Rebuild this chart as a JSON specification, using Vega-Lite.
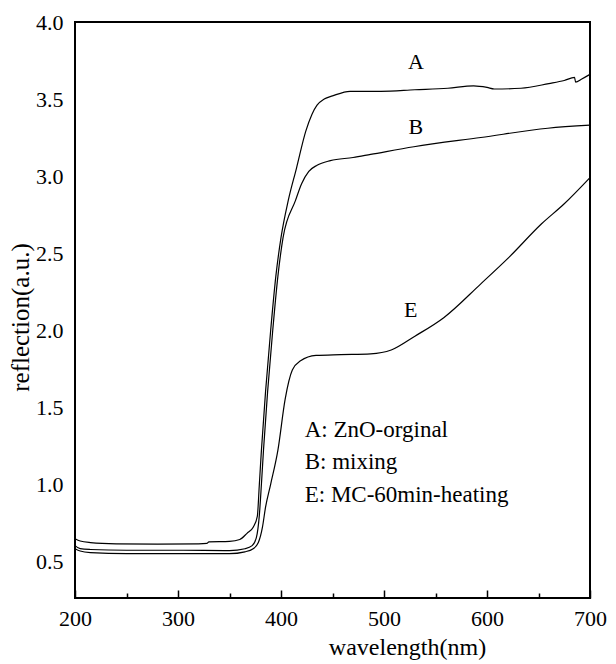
{
  "$schema": "https://vega.github.io/schema/vega-lite/v6.json",
  "width": 515,
  "height": 576,
  "autosize": {"type": "none"},
  "padding": {"left": 75, "top": 22, "right": 26, "bottom": 66},
  "background": "white",
  "config": {
    "view": {"stroke": "black", "strokeWidth": 2},
    "font": "Liberation Serif"
  },
  "datasets": {
    "curves": [
      {"s": "A", "wl": 200, "r": 0.645}, {"s": "A", "wl": 205, "r": 0.63}, {"s": "A", "wl": 215, "r": 0.62}, {"s": "A", "wl": 240, "r": 0.612}, {"s": "A", "wl": 280, "r": 0.61}, {"s": "A", "wl": 320, "r": 0.612}, {"s": "A", "wl": 328, "r": 0.615}, {"s": "A", "wl": 330, "r": 0.625}, {"s": "A", "wl": 350, "r": 0.628}, {"s": "A", "wl": 360, "r": 0.64}, {"s": "A", "wl": 367, "r": 0.68}, {"s": "A", "wl": 373, "r": 0.72}, {"s": "A", "wl": 377, "r": 0.79}, {"s": "A", "wl": 379, "r": 1.0}, {"s": "A", "wl": 381, "r": 1.22}, {"s": "A", "wl": 385, "r": 1.6}, {"s": "A", "wl": 390, "r": 2.0}, {"s": "A", "wl": 395, "r": 2.35}, {"s": "A", "wl": 400, "r": 2.6}, {"s": "A", "wl": 407, "r": 2.84}, {"s": "A", "wl": 415, "r": 3.05}, {"s": "A", "wl": 424, "r": 3.29}, {"s": "A", "wl": 430, "r": 3.4}, {"s": "A", "wl": 435, "r": 3.46}, {"s": "A", "wl": 442, "r": 3.5}, {"s": "A", "wl": 450, "r": 3.52}, {"s": "A", "wl": 467, "r": 3.55}, {"s": "A", "wl": 497, "r": 3.55}, {"s": "A", "wl": 530, "r": 3.56}, {"s": "A", "wl": 562, "r": 3.57}, {"s": "A", "wl": 587, "r": 3.585}, {"s": "A", "wl": 600, "r": 3.575}, {"s": "A", "wl": 607, "r": 3.565}, {"s": "A", "wl": 633, "r": 3.57}, {"s": "A", "wl": 660, "r": 3.6}, {"s": "A", "wl": 675, "r": 3.62}, {"s": "A", "wl": 685, "r": 3.64}, {"s": "A", "wl": 686, "r": 3.61}, {"s": "A", "wl": 692, "r": 3.63}, {"s": "A", "wl": 700, "r": 3.66},
      {"s": "B", "wl": 200, "r": 0.6}, {"s": "B", "wl": 205, "r": 0.58}, {"s": "B", "wl": 215, "r": 0.575}, {"s": "B", "wl": 250, "r": 0.57}, {"s": "B", "wl": 300, "r": 0.57}, {"s": "B", "wl": 350, "r": 0.568}, {"s": "B", "wl": 365, "r": 0.58}, {"s": "B", "wl": 372, "r": 0.6}, {"s": "B", "wl": 376, "r": 0.65}, {"s": "B", "wl": 379, "r": 0.8}, {"s": "B", "wl": 381, "r": 1.0}, {"s": "B", "wl": 383, "r": 1.22}, {"s": "B", "wl": 387, "r": 1.6}, {"s": "B", "wl": 392, "r": 2.0}, {"s": "B", "wl": 397, "r": 2.35}, {"s": "B", "wl": 402, "r": 2.6}, {"s": "B", "wl": 414, "r": 2.84}, {"s": "B", "wl": 420, "r": 2.95}, {"s": "B", "wl": 427, "r": 3.03}, {"s": "B", "wl": 435, "r": 3.07}, {"s": "B", "wl": 448, "r": 3.1}, {"s": "B", "wl": 470, "r": 3.12}, {"s": "B", "wl": 487, "r": 3.14}, {"s": "B", "wl": 529, "r": 3.19}, {"s": "B", "wl": 594, "r": 3.25}, {"s": "B", "wl": 659, "r": 3.31}, {"s": "B", "wl": 700, "r": 3.33},
      {"s": "E", "wl": 200, "r": 0.58}, {"s": "E", "wl": 205, "r": 0.565}, {"s": "E", "wl": 215, "r": 0.555}, {"s": "E", "wl": 250, "r": 0.548}, {"s": "E", "wl": 300, "r": 0.548}, {"s": "E", "wl": 350, "r": 0.548}, {"s": "E", "wl": 365, "r": 0.56}, {"s": "E", "wl": 373, "r": 0.58}, {"s": "E", "wl": 378, "r": 0.62}, {"s": "E", "wl": 382, "r": 0.72}, {"s": "E", "wl": 385, "r": 0.85}, {"s": "E", "wl": 390, "r": 1.0}, {"s": "E", "wl": 397, "r": 1.22}, {"s": "E", "wl": 404, "r": 1.55}, {"s": "E", "wl": 411, "r": 1.74}, {"s": "E", "wl": 419, "r": 1.8}, {"s": "E", "wl": 434, "r": 1.835}, {"s": "E", "wl": 458, "r": 1.84}, {"s": "E", "wl": 487, "r": 1.845}, {"s": "E", "wl": 507, "r": 1.87}, {"s": "E", "wl": 530, "r": 1.96}, {"s": "E", "wl": 558, "r": 2.08}, {"s": "E", "wl": 594, "r": 2.3}, {"s": "E", "wl": 621, "r": 2.47}, {"s": "E", "wl": 653, "r": 2.69}, {"s": "E", "wl": 675, "r": 2.82}, {"s": "E", "wl": 700, "r": 2.99}
    ],
    "curveLabels": [
      {"t": "A", "wl": 531, "r": 3.74},
      {"t": "B", "wl": 531, "r": 3.32},
      {"t": "E", "wl": 526, "r": 2.13}
    ],
    "legend": [
      {"t": "A: ZnO-orginal", "wl": 423, "r": 1.35},
      {"t": "B: mixing", "wl": 423, "r": 1.14},
      {"t": "E: MC-60min-heating", "wl": 423, "r": 0.93}
    ]
  },
  "resolve": {"axis": {"x": "independent"}},
  "layer": [
    {
      "data": {"name": "curves"},
      "mark": {"type": "line", "color": "black", "strokeWidth": 1.2, "interpolate": "monotone"},
      "encoding": {
        "x": {
          "field": "wl", "type": "quantitative",
          "scale": {"domain": [200, 700], "nice": false, "zero": false},
          "axis": {
            "orient": "bottom",
            "offset": -8,
            "title": "wavelength(nm)",
            "titleFont": "Liberation Serif", "titleFontSize": 24, "titleFontWeight": "normal", "titleColor": "black",
            "titleX": 332, "titlePadding": 6,
            "values": [200, 300, 400, 500, 600, 700],
            "labelFont": "Liberation Serif", "labelFontSize": 22, "labelColor": "black", "labelPadding": 10,
            "labelFlush": false,
            "domain": false, "grid": false,
            "ticks": true, "tickColor": "black", "tickWidth": 1.5, "tickSize": 8
          }
        },
        "y": {
          "field": "r", "type": "quantitative",
          "scale": {"domain": [0.26, 4.0], "nice": false, "zero": false},
          "axis": {
            "title": "reflection(a.u.)",
            "titleFont": "Liberation Serif", "titleFontSize": 25, "titleFontWeight": "normal", "titleColor": "black",
            "titleY": 295, "titlePadding": 2,
            "values": [0.5, 1.0, 1.5, 2.0, 2.5, 3.0, 3.5, 4.0],
            "format": ".1f",
            "labelFont": "Liberation Serif", "labelFontSize": 22, "labelColor": "black", "labelPadding": 12,
            "labelFlush": false,
            "ticks": false, "domain": false, "grid": false
          }
        },
        "detail": {"field": "s"}
      }
    },
    {
      "data": {"name": "curveLabels"},
      "mark": {"type": "text", "font": "Liberation Serif", "fontSize": 22, "color": "black", "align": "center", "baseline": "middle"},
      "encoding": {
        "x": {
          "field": "wl", "type": "quantitative",
          "axis": {
            "orient": "bottom", "offset": -5, "title": null, "labels": false, "domain": false, "grid": false,
            "values": [250, 350, 450, 550, 650],
            "ticks": true, "tickColor": "black", "tickWidth": 1.5, "tickSize": 5
          }
        },
        "y": {"field": "r", "type": "quantitative"},
        "text": {"field": "t"}
      }
    },
    {
      "data": {"name": "legend"},
      "mark": {"type": "text", "font": "Liberation Serif", "fontSize": 23, "color": "black", "align": "left", "baseline": "middle"},
      "encoding": {
        "x": {"field": "wl", "type": "quantitative", "axis": null},
        "y": {"field": "r", "type": "quantitative"},
        "text": {"field": "t"}
      }
    }
  ]
}
